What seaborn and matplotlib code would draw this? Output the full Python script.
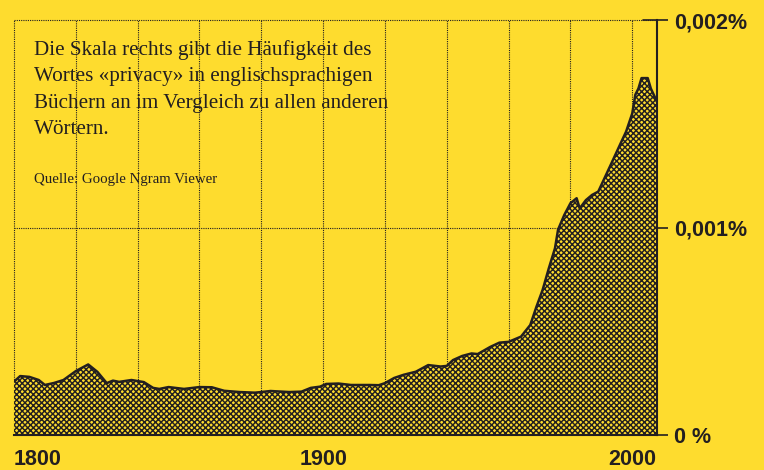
import numpy as np
import pandas as pd
import matplotlib
matplotlib.use("Agg")
import matplotlib.pyplot as plt
import seaborn as sns

# Haeufigkeit von "privacy" (Google Ngram), Werte in Prozent
years = [1800, 1802, 1805, 1808, 1810, 1813, 1816, 1820, 1824, 1827, 1830,
         1832, 1834, 1838, 1842, 1845, 1847, 1850, 1855, 1860, 1864, 1868,
         1873, 1878, 1883, 1889, 1893, 1896, 1899, 1901, 1905, 1909, 1915,
         1918, 1920, 1923, 1926, 1930, 1934, 1938, 1940, 1942, 1945, 1948,
         1950, 1954, 1957, 1960, 1964, 1967, 1969, 1971, 1973, 1975, 1976,
         1978, 1980, 1982, 1983, 1985, 1987, 1989, 1991, 1993, 1996, 1998,
         2000, 2001, 2002, 2003, 2005, 2006, 2008]
freq = [0.000257, 0.000284, 0.000280, 0.000265, 0.000241, 0.000251,
        0.000265, 0.000308, 0.000340, 0.000304, 0.000250, 0.000262,
        0.000256, 0.000265, 0.000255, 0.000227, 0.000222, 0.000231,
        0.000222, 0.000231, 0.000230, 0.000213, 0.000207, 0.000204,
        0.000212, 0.000207, 0.000209, 0.000227, 0.000233, 0.000246,
        0.000248, 0.000241, 0.000241, 0.000240, 0.000250, 0.000275,
        0.000290, 0.000305, 0.000337, 0.000330, 0.000333, 0.000361,
        0.000381, 0.000393, 0.000390, 0.000424, 0.000445, 0.000449,
        0.000474, 0.000530, 0.000618, 0.000699, 0.000803, 0.000900,
        0.000990, 0.001060, 0.001117, 0.001141, 0.001092, 0.001132,
        0.001157, 0.001173, 0.001237, 0.001301, 0.001398, 0.001462,
        0.001550, 0.001640, 0.001670, 0.001720, 0.001720, 0.001670,
        0.001606]

x_ticks = [1800, 1900, 2000]
y_ticks = [0, 0.001, 0.002]
y_labels = ["0 %", "0,001%", "0,002%"]

text_main = ("Die Skala rechts gibt die Häufigkeit des\n"
             "Wortes «privacy» in englischsprachigen\n"
             "Büchern an im Vergleich zu allen anderen\n"
             "Wörtern.")
text_source = "Quelle: Google Ngram Viewer"

yellow = "#FEDC2E"
dark = "#231F20"

df = pd.DataFrame({"year": years, "freq": freq})

sns.set_theme(style="white")
plt.rcParams["font.family"] = ["Liberation Sans", "DejaVu Sans"]
plt.rcParams["hatch.linewidth"] = 1.05
plt.rcParams["hatch.color"] = dark

fig = plt.figure(figsize=(7.64, 4.70), dpi=100, facecolor=yellow)
ax = fig.add_axes([14 / 764, 35 / 470, (657 - 14) / 764, (435 - 20) / 470])
ax.set_facecolor(yellow)

# Flaeche mit Raster
ax.fill_between(df["year"], df["freq"], 0, facecolor=yellow, edgecolor=dark,
                hatch="xxxxxx", linewidth=0, zorder=2)
sns.lineplot(data=df, x="year", y="freq", color=dark, linewidth=1.8, ax=ax, zorder=3)

ax.set_xlim(1800, 2008)
ax.set_ylim(0, 0.002)

# Gitter punktiert
for gx in range(1800, 2001, 20):
    ax.axvline(gx, color=dark, lw=0.8, ls=(0, (1, 1)), zorder=1, clip_on=False)
for gy in [0.001, 0.002]:
    ax.axhline(gy, color=dark, lw=0.8, ls=(0, (1, 1)), zorder=1, clip_on=False)
ax.axhline(0.002, xmin=0.978, xmax=1, color=dark, lw=1.2, zorder=4, clip_on=False)

for s in ["left", "top"]:
    ax.spines[s].set_visible(False)
for s in ["right", "bottom"]:
    ax.spines[s].set_color(dark)
    ax.spines[s].set_linewidth(1.5)
    ax.spines[s].set_zorder(4)

ax.yaxis.tick_right()
ax.set_yticks(y_ticks)
ax.set_yticklabels(y_labels)
ax.set_xticks(x_ticks)
ax.set_xticklabels([str(t) for t in x_ticks])
ax.tick_params(axis="y", direction="out", length=8, width=1.2, color=dark,
               pad=4, labelsize=15.5, labelcolor=dark)
ax.tick_params(axis="x", direction="inout", length=18, width=1.2, color=dark,
               pad=1, labelsize=15.5, labelcolor=dark)
for lab in ax.get_xticklabels() + ax.get_yticklabels():
    lab.set_fontweight("bold")
ax.get_xticklabels()[0].set_horizontalalignment("left")
ax.set_xlabel("")
ax.set_ylabel("")

fig.text(34 / 764, 1 - 40 / 470, text_main, ha="left", va="top",
         fontsize=15.2, family=["Liberation Serif", "DejaVu Serif"],
         color=dark, linespacing=1.53)
fig.text(34 / 764, 1 - 183 / 470, text_source, ha="left", va="baseline",
         fontsize=10.7, family=["Liberation Serif", "DejaVu Serif"], color=dark)

fig.savefig("out.png", dpi=100, facecolor=yellow)
